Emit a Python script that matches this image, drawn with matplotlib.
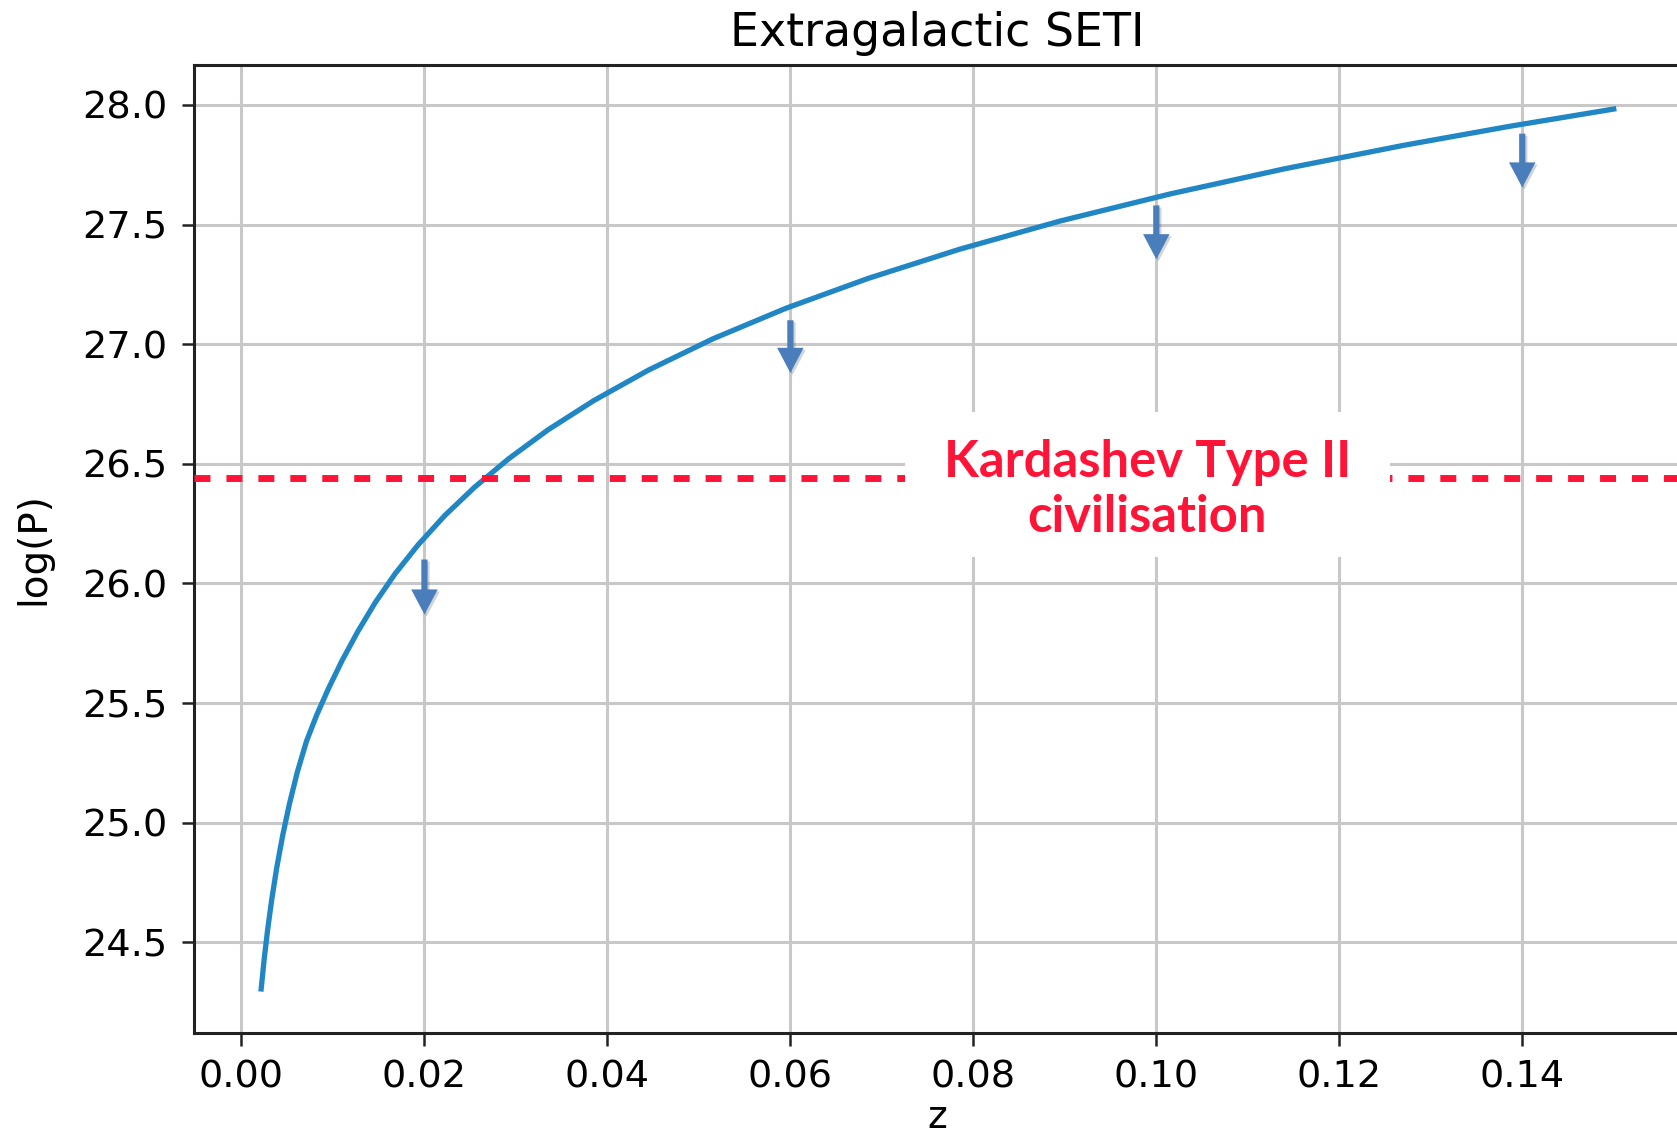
import matplotlib
matplotlib.use("Agg")
import matplotlib.pyplot as plt
from matplotlib.path import Path
import matplotlib.patheffects as pe

# --- curve (z, log P) ---
z_vals = [0.00215, 0.00250, 0.00285, 0.00330, 0.00385, 0.00450, 0.00525,
          0.00610, 0.00710, 0.00820, 0.00950, 0.0110, 0.0127, 0.0146,
          0.0168, 0.0193, 0.0222, 0.0255, 0.0292, 0.0335, 0.0385, 0.0445,
          0.0515, 0.0595, 0.0685, 0.0785, 0.0895, 0.1015, 0.1140, 0.1270,
          0.1385, 0.1500]
logp_vals = [24.305, 24.436, 24.550, 24.677, 24.811, 24.946, 25.080,
             25.211, 25.340, 25.448, 25.560, 25.678, 25.798, 25.919,
             26.041, 26.161, 26.283, 26.403, 26.521, 26.642, 26.764, 26.892,
             27.022, 27.150, 27.275, 27.397, 27.515, 27.628, 27.733, 27.831,
             27.910, 27.983]

# --- upper-limit arrows ---
arrow_z = [0.02, 0.06, 0.10, 0.14]
arrow_top = [26.10, 27.10, 27.58, 27.88]
arrow_tip = [25.87, 26.88, 27.355, 27.655]

kardashev_level = 26.44
kardashev_label = "Kardashev Type II\ncivilisation"
label_pos = (0.099, 26.39)


def wide_box(x0, y0, width, height, mutation_size):
    # white backing box: wide at the sides, more room on top than below
    padx = 0.77 * mutation_size
    pad_top = 0.53 * mutation_size
    pad_bot = 0.30 * mutation_size
    return Path([(x0 - padx, y0 - pad_bot), (x0 + width + padx, y0 - pad_bot),
                 (x0 + width + padx, y0 + height + pad_top),
                 (x0 - padx, y0 + height + pad_top), (x0 - padx, y0 - pad_bot)],
                closed=True)


fig = plt.figure(figsize=(16.77, 11.41), dpi=100)
ax = fig.add_axes([0.1154, 0.0947, 0.8872, 0.8483])

ax.plot(z_vals, logp_vals, color='#2086c4', linewidth=3.8, zorder=2)

for x, top, tip in zip(arrow_z, arrow_top, arrow_tip):
    ax.arrow(x, top, 0, tip - top, width=0.00068, head_width=0.0029,
             head_length=0.105, length_includes_head=True,
             color='#4a7ebb', linewidth=0, zorder=3,
             path_effects=[pe.SimplePatchShadow(offset=(1.5, -1.5), alpha=0.2),
                           pe.Normal()])

ax.axhline(kardashev_level, color='#ff1438', linewidth=5,
           linestyle=(0, (2.3, 2.3)), zorder=4)

ax.text(label_pos[0], label_pos[1], kardashev_label, ha='center', va='center',
        multialignment='center', fontsize=36.5, fontweight='bold',
        family=['Lato', 'DejaVu Sans'], color='#ff1438', linespacing=1.22,
        zorder=5, bbox=dict(boxstyle=wide_box, facecolor='white',
                            edgecolor='none'))

ax.set_title("Extragalactic SETI", fontsize=33, pad=14)
ax.set_xlabel("z", fontsize=27, labelpad=3)
ax.set_ylabel("log(P)", fontsize=28, labelpad=21)

ax.grid(True, color='#c8c8c8', linewidth=2.2)
ax.tick_params(labelsize=27.5, length=9, width=1.8, pad=10, color='#222222')
for s in ax.spines.values():
    s.set_linewidth(2.2)
    s.set_color('#222222')

fig.savefig("out.png", dpi=100)
